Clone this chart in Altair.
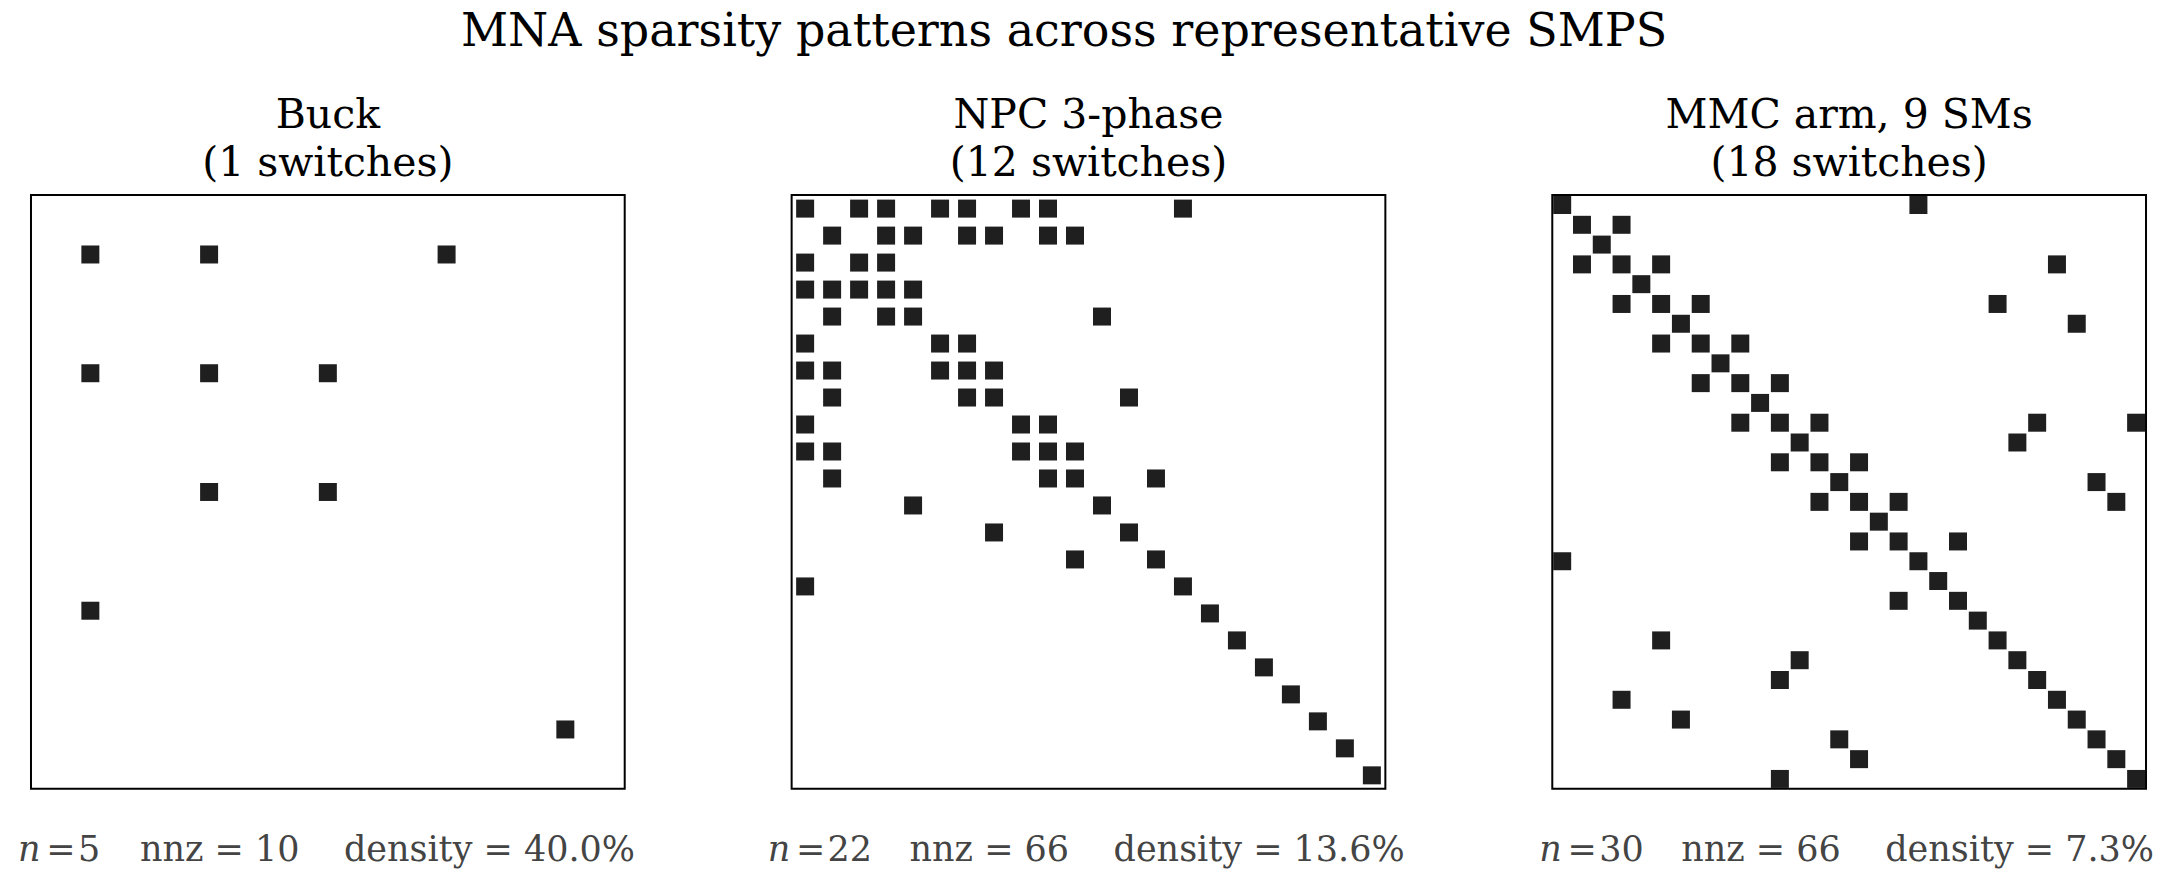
import altair as alt
import pandas as pd

# ---------------- data ----------------
SUPTITLE = "MNA sparsity patterns across representative SMPS"
panel_names = ["Buck", "NPC 3-phase", "MMC arm, 9 SMs"]
panel_switches = [1, 12, 18]
panel_n = [5, 22, 30]

# non-zero column indices for each matrix row (row 0 at top)
buck_rows = [
    [0, 1, 3],
    [0, 1, 2],
    [1, 2],
    [0],
    [4],
]
npc_rows = [
    [0, 2, 3, 5, 6, 8, 9, 14],
    [1, 3, 4, 6, 7, 9, 10],
    [0, 2, 3],
    [0, 1, 2, 3, 4],
    [1, 3, 4, 11],
    [0, 5, 6],
    [0, 1, 5, 6, 7],
    [1, 6, 7, 12],
    [0, 8, 9],
    [0, 1, 8, 9, 10],
    [1, 9, 10, 13],
    [4, 11],
    [7, 12],
    [10, 13],
    [0, 14],
    [15], [16], [17], [18], [19], [20], [21],
]
mmc_rows = [
    [0, 18],
    [1, 3],
    [2],
    [1, 3, 5, 25],
    [4],
    [3, 5, 7, 22],
    [6, 26],
    [5, 7, 9],
    [8],
    [7, 9, 11],
    [10],
    [9, 11, 13, 24, 29],
    [12, 23],
    [11, 13, 15],
    [14, 27],
    [13, 15, 17, 28],
    [16],
    [15, 17, 20],
    [0, 18],
    [19],
    [17, 20],
    [21],
    [5, 22],
    [12, 23],
    [11, 24],
    [3, 25],
    [6, 26],
    [14, 27],
    [15, 28],
    [11, 29],
]
panel_rows = [buck_rows, npc_rows, mmc_rows]

# ---------------- layout / style ----------------
W = 594
SPACING = 167
SERIF = "DejaVu Serif"
MARK_COLOR = "#1f1f1f"
TEXT_GRAY = "#444444"
NBSP = "\u00a0"
# x positions (px from panel left) for the footer pieces
footer_n_start = [-13, -24, -13]
footer_eq_center = [30, 19, 30]
footer_num_start = [47, 36, 47]
footer_rest_start = [109, 118, 129]
FOOTER_Y = W + 72


def make_panel(i):
    n = panel_n[i]
    rows = panel_rows[i]
    recs = [{"row": r, "col": c} for r, cols in enumerate(rows) for c in cols]
    df = pd.DataFrame(recs)
    nnz = len(df)
    density = 100.0 * nnz / (n * n)

    squares = alt.Chart(df).mark_square(
        size=324, color=MARK_COLOR, opacity=1, strokeWidth=0
    ).encode(
        x=alt.X("col:Q", scale=alt.Scale(domain=[-0.5, n - 0.5], nice=False, zero=False), axis=None),
        y=alt.Y("row:Q", scale=alt.Scale(domain=[n - 0.5, -0.5], nice=False, zero=False), axis=None),
    )

    common = dict(font=SERIF, fontSize=35, color=TEXT_GRAY, baseline="alphabetic")

    def txt(s, x, align, **kw):
        return alt.Chart(pd.DataFrame({"t": [s]})).mark_text(
            align=align, **common, **kw
        ).encode(text="t:N", x=alt.value(x), y=alt.value(FOOTER_Y))

    t_n = txt("n", footer_n_start[i], "left", fontStyle="italic")
    t_eq = txt("=", footer_eq_center[i], "center")
    t_num = txt(str(n), footer_num_start[i], "left")
    rest = f"nnz = {nnz}" + NBSP * 4 + f"density = {density:.1f}%"
    t_rest = txt(rest, footer_rest_start[i], "left")

    return alt.layer(squares, t_n, t_eq, t_num, t_rest).properties(
        width=W,
        height=W,
        title=alt.TitleParams(
            text=[panel_names[i], f"({panel_switches[i]} switches)"],
            font=SERIF,
            fontSize=41,
            fontWeight="normal",
            color="black",
            lineHeight=48,
            anchor="middle",
            baseline="alphabetic",
            offset=-22,
        ),
    )


chart = alt.hconcat(
    *[make_panel(i) for i in range(3)], spacing=SPACING, bounds="flush"
).properties(
    title=alt.TitleParams(
        text=SUPTITLE,
        font=SERIF,
        fontSize=46,
        fontWeight="normal",
        color="black",
        anchor="middle",
        baseline="alphabetic",
        offset=2,
        dx=-22,
    ),
    padding={"left": 17, "top": 9, "right": 16, "bottom": 10},
    background="white",
).configure_view(stroke="black", strokeWidth=2)

chart.save("out.html", embed_options={"renderer": "svg", "actions": False})
